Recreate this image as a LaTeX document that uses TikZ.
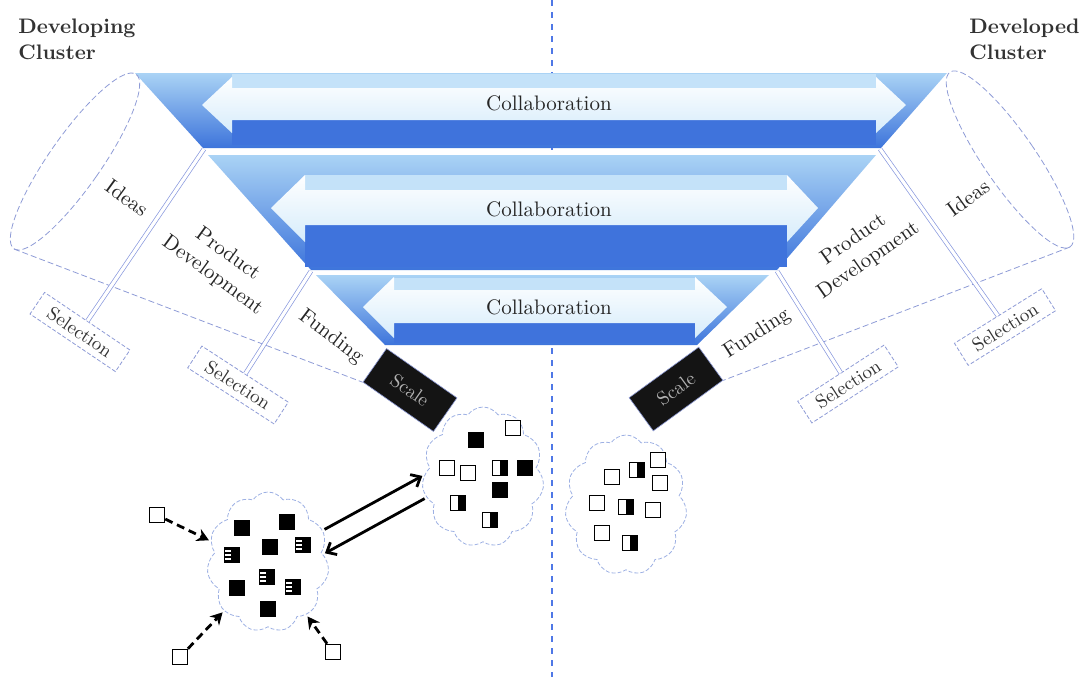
\documentclass[tikz,border=0pt]{standalone}
\usetikzlibrary{shapes.symbols,arrows.meta}

\definecolor{bandlight}{HTML}{AAD3F5}
\definecolor{banddark}{HTML}{3D74DB}
\definecolor{striplight}{HTML}{C4E2F9}
\definecolor{stripdark}{HTML}{3F73DC}
\definecolor{arrowface}{HTML}{D6ECFB}
\definecolor{linegrey}{HTML}{8E9BD6}
\definecolor{sepblue}{HTML}{8797DE}
\definecolor{midline}{HTML}{4F78E6}
\definecolor{cloudblue}{HTML}{9DB0E3}

\tikzset{
  piece/.style={draw=linegrey, dash pattern=on 3pt off 1.5pt, line width=0.4pt},
  sepline/.style={draw=sepblue, double=white, double distance=1.6pt, line width=0.35pt},
  stage/.style={font=\fontsize{10.5}{13}\selectfont, align=center, text=black!85, inner sep=1pt},
  selbox/.style={draw=linegrey, dash pattern=on 2pt off 1pt, line width=0.4pt, fill=white, minimum width=51.5pt, minimum height=13pt, inner sep=0pt, font=\fontsize{9.5}{10}\selectfont, text=black!80},
  scalebox/.style={fill=black!92, draw=linegrey, line width=0.3pt, minimum width=43pt, minimum height=20.5pt, inner sep=0pt, text=black!30, font=\fontsize{9.5}{10}\selectfont},
  collab/.style={font=\fontsize{10.5}{12}\selectfont, text=black!85, inner sep=0pt},
  title/.style={font=\fontsize{10.5}{13}\selectfont\bfseries, align=left, text=black!80, inner sep=0pt, anchor=north west},
  sq/.style={draw=black, line width=0.8pt, minimum size=7.5pt, inner sep=0pt},
  fullsq/.style={sq, fill=black},
  halfsq/.style={sq, fill=white, path picture={\fill[black] (path picture bounding box.north) rectangle (path picture bounding box.south east);}},
  stripsq/.style={sq, fill=black, path picture={\foreach \k in {-2,0,2} \draw[white, line width=0.9pt] ([xshift=-3.4pt,yshift=\k pt]path picture bounding box.center) -- ([xshift=-0.4pt,yshift=\k pt]path picture bounding box.center);}},
  blob/.style={cloud, cloud puffs=11, cloud puff arc=110, draw=cloudblue, dash pattern=on 2pt off 1pt, line width=0.4pt, minimum width=61pt, minimum height=70pt, inner sep=0pt},
  feed/.style={line width=1.4pt, dash pattern=on 4pt off 2.5pt, -{Stealth[length=6pt,width=6.5pt]}, shorten >=1pt},
  link/.style={line width=1.4pt, -{Straight Barb[length=4pt,width=7pt]}, shorten >=1pt, shorten <=1pt},
}

\begin{document}
\begin{tikzpicture}[x=0.5pt,y=-0.5pt]
\useasboundingbox (0,0) rectangle (1083,677);

% dividing line
\draw[midline, dashed, line width=0.7pt] (552,0) -- (552,677);

% collaboration bands
\shade[top color=bandlight, bottom color=banddark] (135,73) -- (947,73) -- (881,148) -- (203,148) -- cycle;
\fill[striplight] (232,74) rectangle (876,88);
\fill[stripdark] (232,120) rectangle (876,145);
\shade[top color=white, bottom color=arrowface] (202,105) -- (232,77) -- (232,88) -- (876,88) -- (876,77) -- (906,105) -- (876,133) -- (876,120) -- (232,120) -- (232,133) -- cycle;

\shade[top color=bandlight, bottom color=banddark] (208,155) -- (876,155) -- (777,270) -- (311,270) -- cycle;
\fill[striplight] (305,175) rectangle (787,190);
\fill[stripdark] (305,225) rectangle (787,267);
\shade[top color=white, bottom color=arrowface] (271,208) -- (305,175) -- (305,190) -- (787,190) -- (787,175) -- (818,208) -- (787,242) -- (787,225) -- (305,225) -- (305,242) -- cycle;

\shade[top color=bandlight, bottom color=banddark] (316,275) -- (769,275) -- (697,345) -- (385,345) -- cycle;
\fill[striplight] (394,278) rectangle (695,290);
\fill[stripdark] (394,323) rectangle (695,343);
\shade[top color=white, bottom color=arrowface] (363,307) -- (394,277) -- (394,290) -- (695,290) -- (695,277) -- (727,307) -- (695,338) -- (695,323) -- (394,323) -- (394,338) -- cycle;

\node[collab] (colA) at (549,103) {Collaboration};
\node[collab] (colB) at (549,209) {Collaboration};
\node[collab] (colC) at (549,307) {Collaboration};

\coordinate (cornA) at (204,149);
\coordinate (cornB) at (311,271);
\coordinate (cornAR) at (880,149);
\coordinate (cornBR) at (777,271);

% funnel ends
\node[scalebox, rotate=-35] (scaleL) at (410,390) {Scale};
\node[scalebox, rotate=36] (scaleR) at (676,389) {Scale};

\node[selbox, rotate=-34] (selL1) at (80,332) {Selection};
\node[selbox, rotate=-33] (selL2) at (238,385) {Selection};
\node[selbox, rotate=32] (selR1) at (1005,327) {Selection};
\node[selbox, rotate=33] (selR2) at (848,384) {Selection};

% cones
\draw[piece, rotate around={-35:(75,161.5)}] (75,161.5) ellipse (26 and 106.5);
\draw[piece, rotate around={34.5:(1010,159.5)}] (1010,159.5) ellipse (26 and 106);
\coordinate (mouthL) at (14,249);
\coordinate (mouthR) at (1070,247);
\draw[piece] (mouthL) -- (scaleL.south west);
\draw[piece] (mouthR) -- (scaleR.south east);

\draw[sepline] (cornA) -- (selL1.north);
\draw[sepline] (cornB) -- (selL2.north);
\draw[sepline] (cornAR) -- (selR1.north);
\draw[sepline] (cornBR) -- (selR2.north);

\node[stage, rotate=-36] (ideasL) at (127,198) {Ideas};
\node[stage, rotate=-36] (prodL) at (220,265) {Product\\Development};
\node[stage, rotate=-37] (fundL) at (331,337) {Funding};
\node[stage, rotate=36] (ideasR) at (968,198) {Ideas};
\node[stage, rotate=35] (prodR) at (861,250) {Product\\Development};
\node[stage, rotate=33] (fundR) at (757,334) {Funding};

\node[title] (devingL) at (18,19) {Developing\\Cluster};
\node[title] (devedR) at (969,19) {Developed\\Cluster};

% clusters
\node[blob] (devcloud) at (268,562) {};
\node[blob] (linkcloud) at (483,477) {};
\node[blob] (maturecloud) at (626,505) {};

\foreach \p [count=\i] in {(242,528),(287,522),(270,547),(237,588),(268,609)}
  \node[fullsq] (dk\i) at \p {};
\foreach \p [count=\i] in {(232,555),(303,545),(267,577),(293,587)}
  \node[stripsq] (ds\i) at \p {};

\foreach \p [count=\i] in {(476,440),(525,468),(500,490)}
  \node[fullsq] (lk\i) at \p {};
\foreach \p [count=\i] in {(513,428),(447,468),(468,473)}
  \node[sq, fill=white] (lw\i) at \p {};
\foreach \p [count=\i] in {(500,468),(458,503),(490,520)}
  \node[halfsq] (lh\i) at \p {};

\foreach \p [count=\i] in {(612,477),(658,460),(660,483),(597,503),(653,510),(602,533)}
  \node[sq, fill=white] (mw\i) at \p {};
\foreach \p [count=\i] in {(637,470),(626,507),(630,543)}
  \node[halfsq] (mh\i) at \p {};

\node[sq, fill=white] (newA) at (157,515) {};
\node[sq, fill=white] (newB) at (180,657) {};
\node[sq, fill=white] (newC) at (333,652) {};

\draw[feed] (newA) -- (devcloud.160);
\draw[feed] (newB) -- (devcloud.228);
\draw[feed] (newC) -- (devcloud.306);

\draw[link] (devcloud.30) -- (linkcloud.178);
\draw[link] (linkcloud.200) -- (devcloud.8);
\end{tikzpicture}
\end{document}
